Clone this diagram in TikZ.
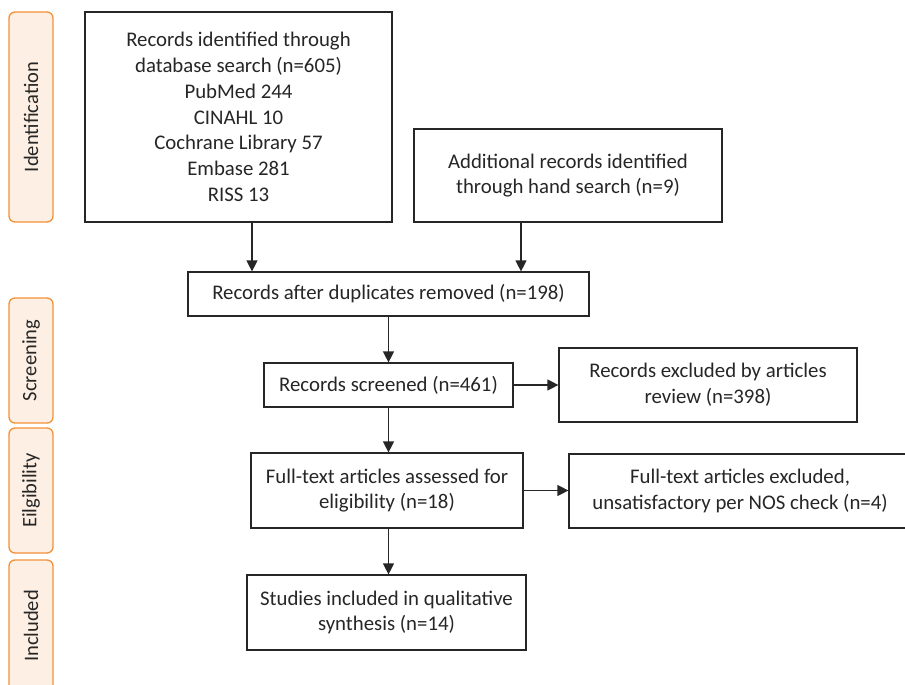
\documentclass[tikz,border=0pt]{standalone}
\usepackage{fontspec}
\setmainfont{Carlito}
\usetikzlibrary{arrows.meta}
\definecolor{ink}{HTML}{262626}
\definecolor{labline}{HTML}{F29238}
\definecolor{labfill}{HTML}{FDEFE4}
\begin{document}
\begin{tikzpicture}[x=1pt,y=-1pt,
  box/.style={draw=ink, line width=1.2pt, text=ink, align=center, inner sep=0pt,
    font=\fontsize{20.8}{25.8}\selectfont},
  stagelab/.style={draw=labline, fill=labfill, rounded corners=6pt, line width=1.3pt,
    rotate=90, minimum height=44pt, inner sep=0pt, text=ink,
    font=\fontsize{20.5}{24}\selectfont},
  arr/.style={draw=ink, line width=1.2pt, -{Triangle[length=11pt,width=11pt]}}]
\useasboundingbox (0,0) rectangle (905,685);
\fill[white] (0,0) rectangle (905,685);

% stage labels
\node[stagelab, minimum width=210pt] (sid) at (31,117) {Identification};
\node[stagelab, minimum width=125pt] (ssc) at (31,360.5) {Screening};
\node[stagelab, minimum width=125pt] (sel) at (31,490.5) {Eilgibility};
\node[stagelab, minimum width=132pt] (sin) at (31,626) {Included};

% boxes
\node[box, minimum width=307pt, minimum height=210pt] (db) at (238.5,117)
  {Records identified through\\database search (n=605)\\PubMed 244\\CINAHL 10\\Cochrane Library 57\\Embase 281\\RISS 13};
\node[box, minimum width=308pt, minimum height=93pt] (hand) at (568,175.5)
  {Additional records identified\\through hand search (n=9)};
\node[box, minimum width=401pt, minimum height=44pt] (dup) at (388.5,294)
  {Records after duplicates removed (n=198)};
\node[box, minimum width=249pt, minimum height=44pt] (scr) at (388.5,385)
  {Records screened (n=461)};
\node[box, minimum width=298pt, minimum height=74pt] (exa) at (708,385)
  {Records excluded by articles\\review (n=398)};
\node[box, minimum width=272pt, minimum height=75pt] (full) at (387,490.5)
  {Full-text articles assessed for\\eligibility (n=18)};
\node[box, minimum width=342pt, minimum height=74pt] (exb) at (740,491)
  {Full-text articles excluded,\\unsatisfactory per NOS check (n=4)};
\node[box, minimum width=279pt, minimum height=75pt] (stud) at (386.5,612.5)
  {Studies included in qualitative\\synthesis (n=14)};

% connectors
\coordinate (xa) at (252,0);
\coordinate (xb) at (521,0);
\coordinate (xc) at (388.5,0);
\draw[arr] (db.south -| xa) -- (dup.north -| xa);
\draw[arr] (hand.south -| xb) -- (dup.north -| xb);
\draw[arr] (dup.south -| xc) -- (scr.north -| xc);
\draw[arr] (scr.east) -- (exa.west);
\draw[arr] (scr.south -| xc) -- (full.north -| xc);
\draw[arr] (full.east) -- (exb.west |- full.east);
\draw[arr] (full.south -| xc) -- (stud.north -| xc);
\end{tikzpicture}
\end{document}
